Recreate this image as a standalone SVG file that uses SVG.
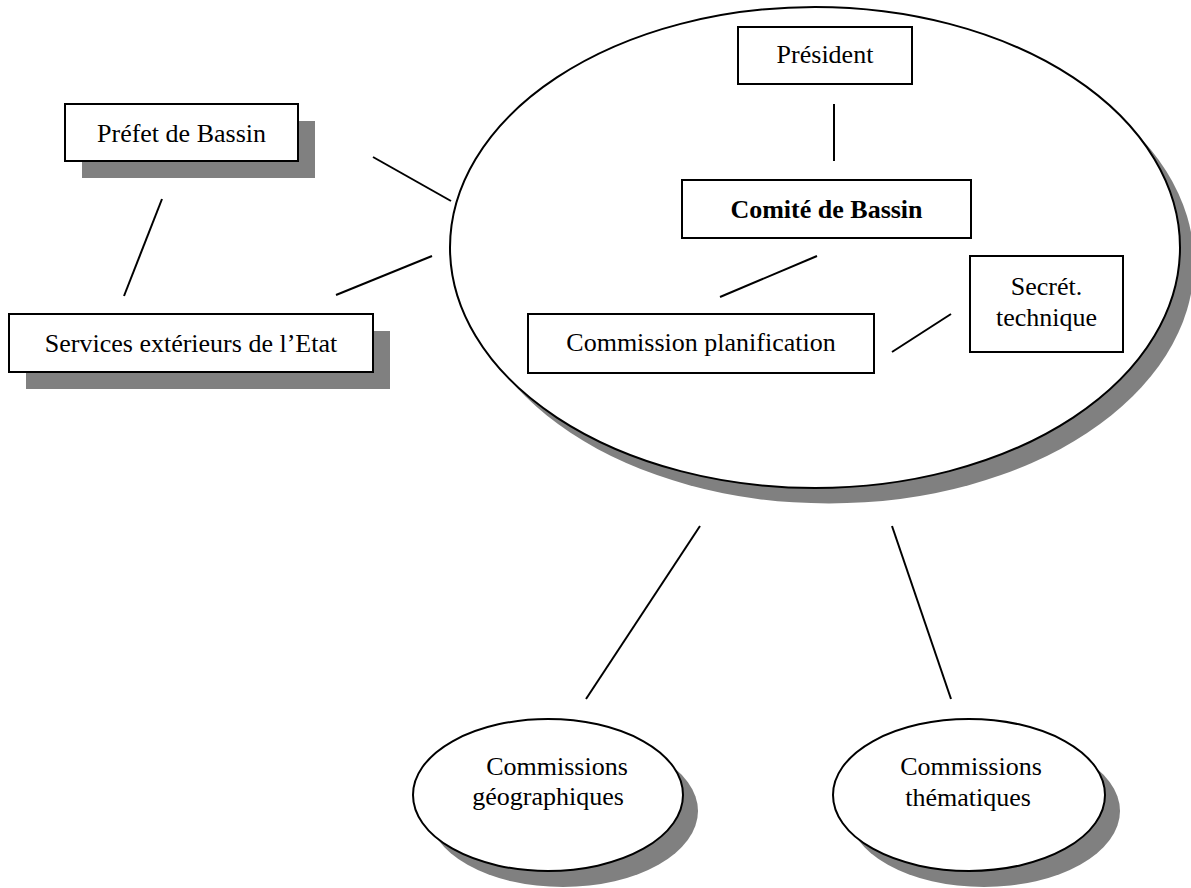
<svg xmlns="http://www.w3.org/2000/svg" width="1191" height="888" viewBox="0 0 1191 888">
  <style>
    .shadow { fill: #808080; stroke: none; }
    .box { fill: #ffffff; stroke: #000000; stroke-width: 2; }
    .label { font-family: "Liberation Serif", "Times New Roman", serif; font-size: 26px; fill: #000000; text-anchor: middle; }
    .bold { font-weight: bold; }
    .link { stroke: #000000; stroke-width: 2; fill: none; }
  </style>
  <rect width="1191" height="888" fill="#ffffff"/>

  <!-- Comité de Bassin enclosure -->
  <g id="comite-enclosure">
    <ellipse class="shadow" cx="829" cy="263" rx="365" ry="240.5"/>
    <ellipse class="box" cx="815" cy="247.5" rx="365" ry="240.5"/>
  </g>

  <g id="prefet">
    <rect class="shadow" x="82" y="121" width="233" height="57"/>
    <rect class="box" x="65" y="104" width="233" height="57"/>
    <text class="label" x="181.5" y="142">Préfet de Bassin</text>
  </g>

  <g id="services">
    <rect class="shadow" x="26" y="331" width="364" height="58"/>
    <rect class="box" x="9" y="314" width="364" height="58"/>
    <text class="label" x="191" y="352">Services extérieurs de l’Etat</text>
  </g>

  <g id="president">
    <rect class="box" x="738" y="27" width="174" height="57"/>
    <text class="label" x="825" y="63">Président</text>
  </g>

  <g id="comite">
    <rect class="box" x="682" y="180" width="289" height="58"/>
    <text class="label bold" x="826.5" y="218">Comité de Bassin</text>
  </g>

  <g id="commission-planification">
    <rect class="box" x="528" y="314" width="346" height="59"/>
    <text class="label" x="701" y="351">Commission planification</text>
  </g>

  <g id="secretariat">
    <rect class="box" x="970" y="256" width="153" height="96"/>
    <text class="label" x="1046.5" y="295">Secrét.</text>
    <text class="label" x="1046.5" y="326">technique</text>
  </g>

  <g id="commissions-geographiques">
    <ellipse class="shadow" cx="563" cy="811" rx="135" ry="76"/>
    <ellipse class="box" cx="548" cy="795" rx="135" ry="76"/>
    <text class="label" x="557" y="775">Commissions</text>
    <text class="label" x="548" y="805">géographiques</text>
  </g>

  <g id="commissions-thematiques">
    <ellipse class="shadow" cx="984" cy="811" rx="136" ry="76"/>
    <ellipse class="box" cx="969" cy="795" rx="136" ry="76"/>
    <text class="label" x="971" y="775">Commissions</text>
    <text class="label" x="968" y="806">thématiques</text>
  </g>

  <!-- plain links, no arrowheads -->
  <g id="connectors">
    <line class="link" x1="162" y1="199" x2="124" y2="296"/>
    <line class="link" x1="373" y1="157" x2="451" y2="201"/>
    <line class="link" x1="336" y1="295" x2="432" y2="256"/>
    <line class="link" x1="834" y1="104" x2="834" y2="161"/>
    <line class="link" x1="720" y1="297" x2="817" y2="256"/>
    <line class="link" x1="892" y1="352" x2="951" y2="314"/>
    <line class="link" x1="700" y1="526" x2="586" y2="699"/>
    <line class="link" x1="892" y1="526" x2="951" y2="699"/>
  </g>
</svg>
